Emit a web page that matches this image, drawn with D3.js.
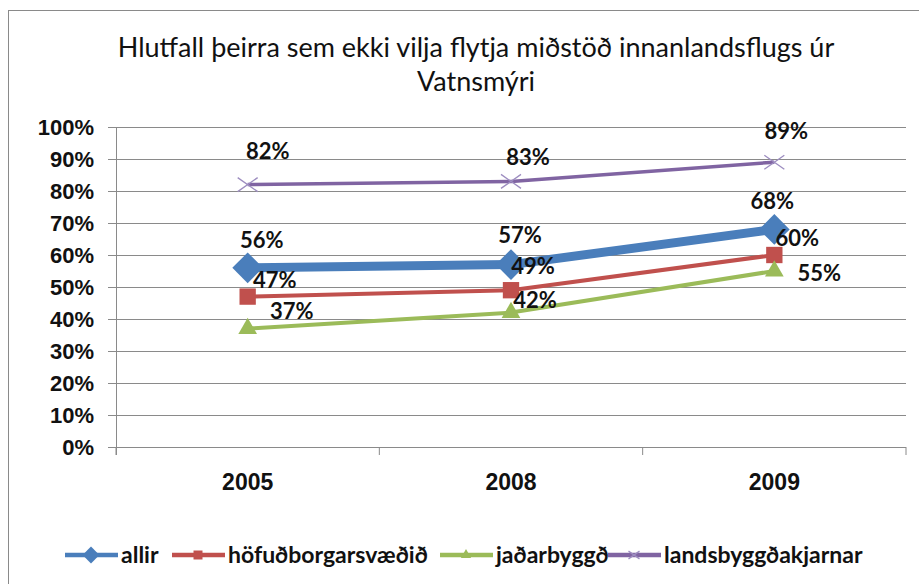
<!DOCTYPE html>
<html lang="is">
<head>
    <meta charset="UTF-8">
    <script src="https://d3js.org/d3.v7.min.js"></script>
    <title>Hlutfall þeirra sem ekki vilja flytja miðstöð innanlandsflugs</title>
    <style>
        body{ margin:0; background:#fff; }
        svg{ display:block; font-family: Lato, "Open Sans", sans-serif; }
        .axis path, .axis line{ stroke:#8a8a8a; }
        .axis text{ font-weight:bold; fill:#111; }
    </style>
</head>
<body>
<script>
    // data
    var years = ["2005","2008","2009"];
    var seriesNames = ["allir","höfuðborgarsvæðið","jaðarbyggð","landsbyggðakjarnar"];
    var allir = [0.56,0.57,0.68];
    var hofudborg = [0.47,0.49,0.60];
    var jadarbyggd = [0.37,0.42,0.55];
    var landsbyggd = [0.82,0.83,0.89];
    var yTicks = [0,0.1,0.2,0.3,0.4,0.5,0.6,0.7,0.8,0.9,1];

    var width = 919, height = 584;
    var plotL = 116, plotR = 906, plotT = 127, plotB = 447;

    // style per series (lab = label offset from the point)
    var styles = [
        {color:"#4a7ebb", w:9, marker:"diamond", size:600, lab:[[14,-28],[9,-30],[-2,-28]]},
        {color:"#c0504d", w:4, marker:"square", size:340, lab:[[27,-17],[22,-24],[23,-17]]},
        {color:"#9bbb59", w:4, marker:"triangle", size:250, lab:[[44,-18],[24,-13],[45,2]]},
        {color:"#8064a2", w:3.5, marker:"cross", size:0, lab:[[20,-34],[17,-24],[12,-31]]}
    ];
    var values = [allir,hofudborg,jadarbyggd,landsbyggd];

    var svg = d3.select("body").append("svg").attr("width",width).attr("height",height);

    // outer frame
    svg.append("rect").attr("x",8.5).attr("y",10.5).attr("width",width+10).attr("height",height+10)
        .style("fill","#fff").style("stroke","#8a8a8a");

    // title
    var title = svg.append("text").attr("text-anchor","middle").style("font-size","27px").style("fill","#111");
    title.append("tspan").attr("x",476).attr("y",57).text("Hlutfall þeirra sem ekki vilja flytja miðstöð innanlandsflugs úr");
    title.append("tspan").attr("x",476).attr("y",91).text("Vatnsmýri");

    var x = d3.scaleBand().domain(years).range([plotL,plotR]);
    var y = d3.scaleLinear().domain([0,1]).range([plotB,plotT]);

    // gridlines
    svg.append("g").attr("class","axis").attr("transform","translate("+plotL+",0)")
        .call(d3.axisLeft(y).tickValues(yTicks).tickSize(-(plotR-plotL)).tickFormat(""))
        .call(g=>g.select(".domain").remove());

    // y axis
    svg.append("g").attr("class","axis").attr("transform","translate("+plotL+",0)")
        .call(d3.axisLeft(y).tickValues(yTicks).tickSize(8).tickPadding(14).tickFormat(d3.format(".0%")))
        .call(g=>g.select(".domain").attr("d","M0.5,"+plotT+"V"+(plotB+8)))
        .selectAll("text").style("font-size","22px");

    // x axis
    var xAxis = svg.append("g").attr("class","axis").attr("transform","translate(0,"+plotB+")")
        .call(d3.axisBottom(x).tickSize(0).tickPadding(27))
        .call(g=>g.select(".domain").attr("d","M"+plotL+",0.5H"+plotR));
    xAxis.selectAll("text").style("font-size","23px");
    xAxis.selectAll(".sep").data(years.concat(["end"])).enter().append("line").attr("class","sep")
        .attr("x1",d=>d=="end"?plotR:x(d)).attr("x2",d=>d=="end"?plotR:x(d))
        .attr("y1",0).attr("y2",8);

    var cx = d=>x(d)+x.bandwidth()/2;

    function marker(g, st, px, py, scale){
        scale = scale||1;
        if(st.marker=="cross"){
            var r = 10*scale;
            g.append("path").attr("d","M"+(px-r)+","+(py-r*0.7)+"L"+(px+r)+","+(py+r*0.7)+"M"+(px-r)+","+(py+r*0.7)+"L"+(px+r)+","+(py-r*0.7))
                .style("stroke","#9d8dc0").style("stroke-width",1.3).style("fill","none");
            return;
        }
        var type = {diamond:d3.symbolDiamond2, square:d3.symbolSquare2, triangle:d3.symbolTriangle2}[st.marker];
        var sym = d3.symbol().type(type).size(st.size*scale*scale);
        g.append("path").attr("d",sym()).attr("transform","translate("+px+","+py+")").style("fill",st.color);
    }

    // lines and markers
    var line = d3.line().x((d,i)=>cx(years[i])).y(d=>y(d));
    values.forEach(function(vals,s){
        var st = styles[s];
        var g = svg.append("g");
        g.append("path").datum(vals).attr("d",line).style("fill","none")
            .style("stroke",st.color).style("stroke-width",st.w).style("stroke-linejoin","round");
        vals.forEach((v,i)=>marker(g, st, cx(years[i]), y(v)));
    });
    // data labels
    values.forEach(function(vals,s){
        var st = styles[s];
        svg.append("g").selectAll("text").data(vals).enter().append("text")
            .attr("x",(d,i)=>cx(years[i])+st.lab[i][0])
            .attr("y",(d,i)=>y(d)+st.lab[i][1]+8)
            .attr("text-anchor","middle").style("font-size","22px").style("font-weight","bold").style("fill","#111")
            .text(d=>d3.format(".0%")(d));
    });

    // legend
    var legendX = [65,172,440,608];
    var leg = svg.append("g").attr("transform","translate(0,555)");
    seriesNames.forEach(function(n,s){
        var st = styles[s];
        var g = leg.append("g").attr("transform","translate("+legendX[s]+",0)");
        g.append("line").attr("x1",0).attr("x2",53).attr("y1",0).attr("y2",0)
            .style("stroke",st.color).style("stroke-width",4.5);
        marker(g, st, 26, 0, 0.55);
        g.append("text").attr("x",56).attr("y",8).style("font-size","23px").style("font-weight","bold")
            .style("fill","#111").text(n);
    });
</script>
</body>
</html>
